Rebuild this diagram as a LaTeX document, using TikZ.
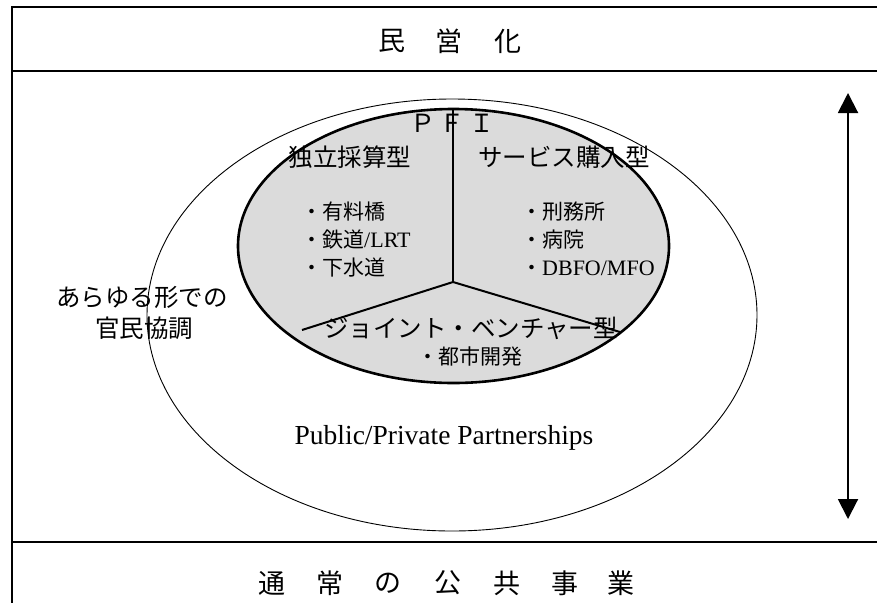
\documentclass[tikz,border=0pt]{standalone}
\usepackage{fontspec}
\setmainfont{Liberation Serif}
\newfontfamily\jp{Noto Sans CJK JP}
\usetikzlibrary{arrows.meta}
\begin{document}
\begin{tikzpicture}[x=1pt,y=-1pt,
  frameline/.style={line width=2.4pt},
  bandtxt/.style={inner sep=0pt,font=\jp\fontsize{27}{30}\selectfont},
  headtxt/.style={inner sep=0pt,font=\jp\fontsize{24.5}{28}\selectfont},
  itemtxt/.style={inner sep=0pt,anchor=west,font=\jp\fontsize{21}{24}\selectfont},
  pfitxt/.style={inner sep=0pt,font=\jp\fontsize{25}{28}\selectfont},
  divline/.style={line width=2pt}]
\useasboundingbox (0,0) rectangle (877,603);
% frame
\draw[frameline] (877,7) -- (12,7) -- (12,603);
\draw[frameline] (12,71) -- (877,71);
\draw[frameline] (12,542) -- (877,542);
% band texts
\node[bandtxt] (m1) at (392,41) {民};
\node[bandtxt] (m2) at (449,41) {営};
\node[bandtxt] (m3) at (508,41) {化};
\foreach \c/\x [count=\i] in {通/272,常/330,の/388,公/448,共/507,事/565,業/621}
  \node[bandtxt] (b\i) at (\x,583) {\c};
% arrow
\coordinate (atop) at (848,93);
\coordinate (abot) at (848,519);
\draw[line width=2pt,{Triangle[width=20pt,length=20pt]}-{Triangle[width=20pt,length=20pt]}] (atop) -- (abot);
% outer ellipse
\draw[line width=0.9pt] (452,315) ellipse [x radius=305, y radius=216];
% inner ellipse
\fill[fill=black!14] (453.5,246) ellipse [x radius=215.5, y radius=137];
\draw[line width=2.6pt] (453.5,246) ellipse [x radius=215.5, y radius=137];
\coordinate (ctop) at (453,109);
\coordinate (cmid) at (453,282);
\coordinate (cl) at (302,330);
\coordinate (cr) at (620,332);
\draw[divline] (ctop) -- (cmid);
\draw[divline] (cl) -- (cmid) -- (cr);
% PFI
\node[pfitxt] (p1) at (423,123) {Ｐ};
\node[pfitxt] (p2) at (452,123) {Ｆ};
\node[pfitxt] (p3) at (482,123) {Ｉ};
% headers
\node[headtxt] (h1) at (350,157) {独立採算型};
\node[headtxt] (h2) at (564,157) {サービス購入型};
\node[headtxt] (h3) at (471,328) {ジョイント・ベンチャー型};
% items
\node[itemtxt] (i1) at (301,212) {・有料橋};
\node[itemtxt] (i2) at (301,240) {・鉄道{\fontspec{Liberation Serif}\fontsize{22}{24}\selectfont /LRT}};
\node[itemtxt] (i3) at (301,268) {・下水道};
\node[itemtxt] (j1) at (521,212) {・刑務所};
\node[itemtxt] (j2) at (521,240) {・病院};
\node[itemtxt] (j3) at (521,268) {・{\fontspec{Liberation Serif}\fontsize{22}{24}\selectfont DBFO/MFO}};
\node[itemtxt] (k1) at (417,357) {・都市開発};
% left text
\node[headtxt] (l1) at (142,297) {あらゆる形での};
\node[headtxt] (l2) at (144,328) {官民協調};
% PPP
\node[inner sep=0pt,font=\fontsize{27.5}{30}\selectfont] (ppp) at (444,438) {Public/Private Partnerships};
\end{tikzpicture}
\end{document}
